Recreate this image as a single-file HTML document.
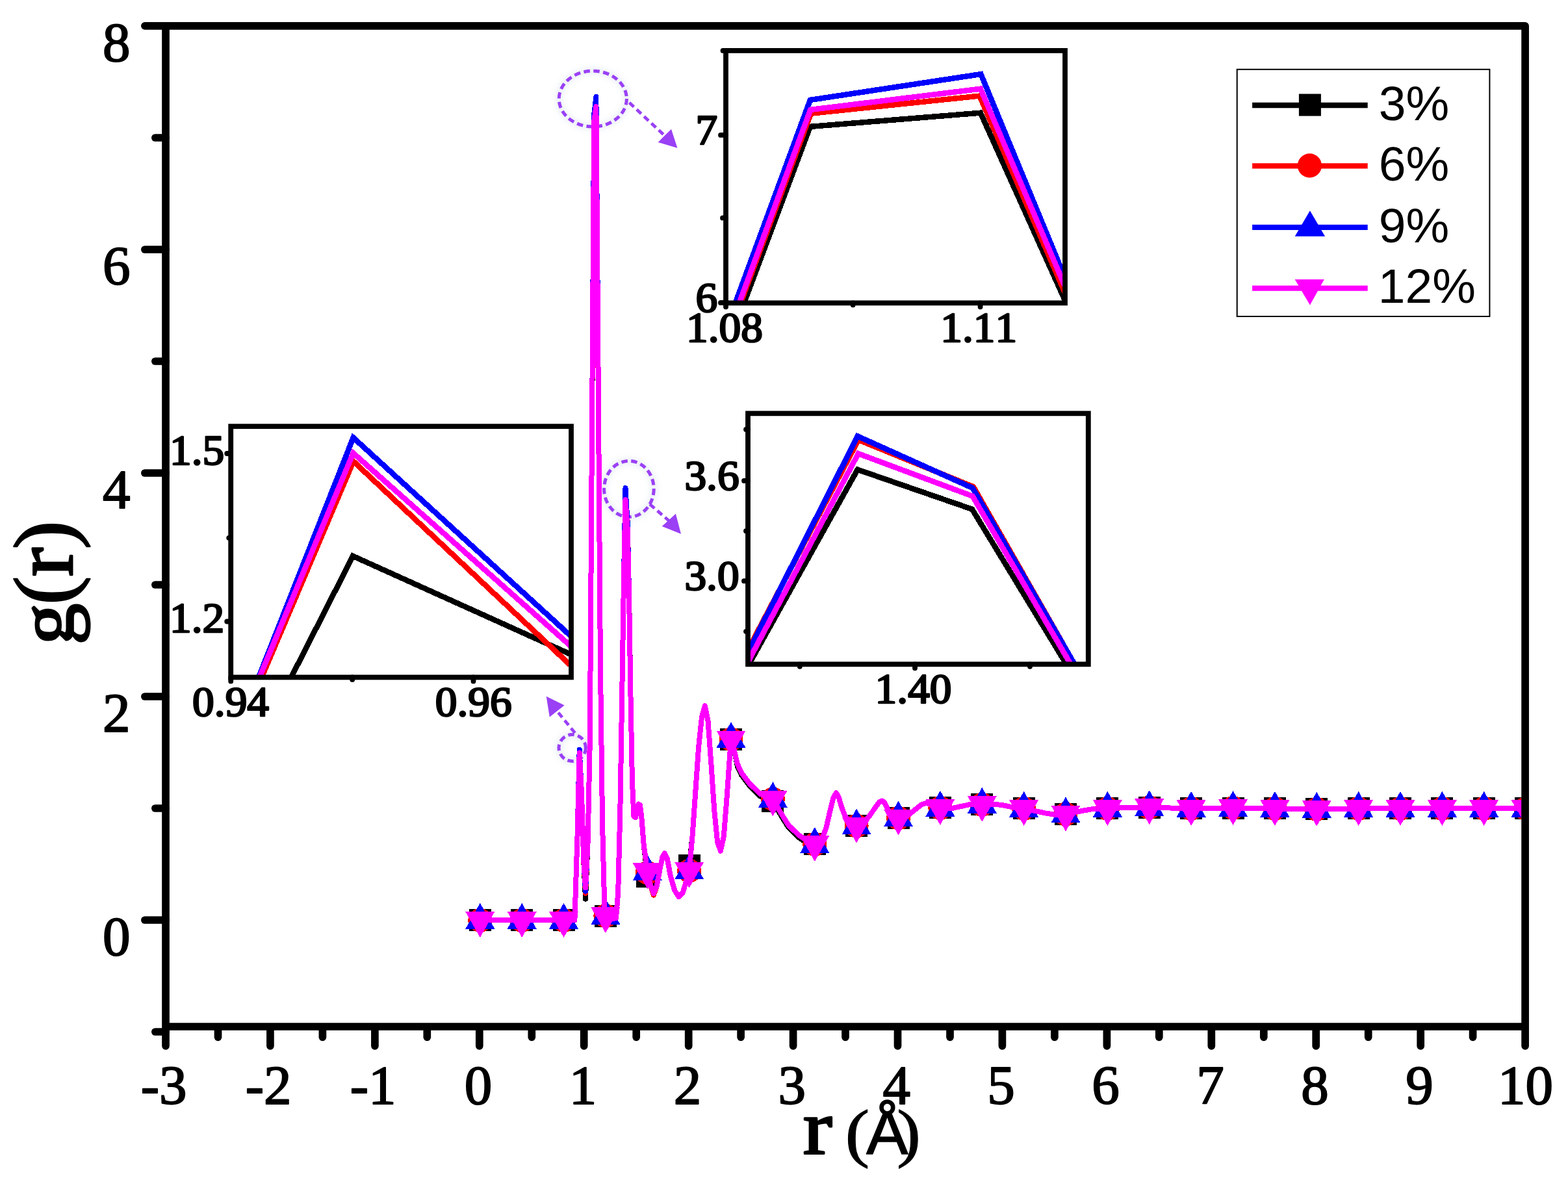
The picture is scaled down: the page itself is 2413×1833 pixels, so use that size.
<!DOCTYPE html>
<html lang="en">
<head>
<meta charset="utf-8">
<title>g(r) radial distribution function</title>
<style>
html,body{margin:0;padding:0;background:#fff;}
body{width:2413px;height:1833px;overflow:hidden;}
svg{display:block;}
</style>
</head>
<body>
<svg width="2413" height="1833" viewBox="0 0 2413 1833" role="img" aria-label="Radial distribution function g(r) versus r for 3%, 6%, 9% and 12%">
<defs>
<filter id="glow" x="-30%" y="-30%" width="160%" height="160%"><feGaussianBlur stdDeviation="5"/></filter>
<filter id="soft" x="-10%" y="-10%" width="120%" height="120%"><feGaussianBlur stdDeviation="0.7"/></filter>
<clipPath id="cpMain"><rect x="255.0" y="39.8" width="2086.25" height="1540.2"/></clipPath>
</defs>
<rect width="2413" height="1833" fill="#fff"/>
<ellipse cx="912.3" cy="152.1" rx="52.1" ry="42.9" fill="none" stroke="#8fa6c8" stroke-opacity="0.22" stroke-width="8" filter="url(#glow)"/>
<g filter="url(#soft)">
<ellipse cx="912.3" cy="152.1" rx="52.1" ry="42.9" fill="none" stroke="#9a3ff5" stroke-width="5" stroke-dasharray="9.5 5.5"/>
<path d="M968.5,158 L1023,209" fill="none" stroke="#9a3ff5" stroke-width="4.8" stroke-dasharray="9.5 6"/>
<polygon points="1042.4,227.8 1012.7,218.9 1033,198.7" fill="#9a3ff5"/>
</g>
<ellipse cx="967.9" cy="752.5" rx="38.3" ry="43.1" fill="none" stroke="#8fa6c8" stroke-opacity="0.22" stroke-width="8" filter="url(#glow)"/>
<g filter="url(#soft)">
<ellipse cx="967.9" cy="752.5" rx="38.3" ry="43.1" fill="none" stroke="#9a3ff5" stroke-width="5" stroke-dasharray="9.5 5.5"/>
<path d="M1000,776 L1030,802" fill="none" stroke="#9a3ff5" stroke-width="4.8" stroke-dasharray="9.5 6"/>
<polygon points="1048,821.7 1018.7,810.1 1039.9,790.8" fill="#9a3ff5"/>
</g>
<ellipse cx="880.7" cy="1151" rx="20.7" ry="20.5" fill="none" stroke="#8fa6c8" stroke-opacity="0.22" stroke-width="8" filter="url(#glow)"/>
<g filter="url(#soft)">
<ellipse cx="880.7" cy="1151" rx="20.7" ry="20.5" fill="none" stroke="#9a3ff5" stroke-width="5" stroke-dasharray="9.5 5.5"/>
<path d="M884.8,1128 L857.4,1094.5" fill="none" stroke="#9a3ff5" stroke-width="4.8" stroke-dasharray="9.5 6"/>
<polygon points="840.7,1071.8 868.6,1085.4 845.8,1103.6" fill="#9a3ff5"/>
</g>
<g clip-path="url(#cpMain)" shape-rendering="crispEdges">
<polyline points="738.8,1416.4 803.2,1416.4 867.5,1416.4 884.4,1416.4 888.5,1287.4 891.7,1189.4 894.9,1218.6 898.1,1321.8 901.0,1383.7 904.6,1296.0 907.8,1141.2 911.0,659.6 914.2,203.8 917.4,189.2 920.6,577.0 923.9,1020.8 927.1,1270.2 930.3,1395.8 932.7,1416.4 948.0,1413.0 951.2,1373.4 954.4,1244.4 957.7,1038.0 960.1,883.2 962.5,785.7 965.7,826.6 968.1,917.6 970.5,1072.4 972.9,1201.4 975.4,1256.4 977.8,1258.2 980.2,1247.8 982.6,1237.5 985.0,1239.2 987.4,1258.2 990.6,1299.4 996.3,1349.3 1001.1,1363.1 1005.9,1375.1 1010.8,1363.1 1015.6,1337.3 1019.6,1318.4 1022.8,1313.2 1026.9,1321.8 1031.7,1347.6 1038.1,1370.0 1044.6,1380.3 1051.0,1373.4 1057.4,1351.0 1060.7,1331.6 1065.5,1287.4 1070.3,1218.6 1075.1,1149.8 1080.0,1103.4 1084.8,1086.2 1089.6,1110.2 1094.4,1175.6 1099.3,1247.8 1104.1,1296.0 1108.9,1309.8 1113.8,1287.4 1118.6,1227.2 1123.4,1158.4 1125.0,1137.8 1129.9,1155.0 1134.7,1179.0 1141.1,1192.8 1154.0,1210.0 1170.1,1225.5 1189.4,1233.2 1200.7,1253.0 1213.5,1273.6 1229.6,1289.1 1242.5,1297.7 1253.8,1299.4 1263.4,1296.0 1271.5,1273.6 1278.6,1242.7 1282.7,1227.2 1286.9,1220.3 1290.8,1227.2 1295.3,1242.7 1300.0,1254.7 1306.9,1265.0 1318.1,1271.1 1327.8,1266.8 1337.5,1256.4 1347.1,1242.7 1353.5,1234.1 1357.6,1232.4 1361.6,1235.8 1366.4,1246.1 1374.5,1256.4 1382.5,1259.0 1395.4,1256.4 1408.3,1246.1 1417.9,1238.4 1426.0,1235.8 1435.6,1239.2 1446.9,1243.4 1463.0,1244.4 1479.1,1241.0 1495.2,1237.5 1511.3,1238.4 1527.4,1237.5 1543.4,1239.2 1559.5,1242.7 1575.6,1244.4 1591.7,1247.8 1607.8,1251.3 1623.9,1253.9 1640.0,1253.0 1656.1,1249.6 1680.2,1245.3 1704.4,1244.4 1736.6,1242.7 1768.7,1242.7 1800.9,1243.5 1833.1,1244.4 1897.5,1243.5 1961.9,1244.4 2026.2,1245.3 2090.6,1244.4 2155.0,1244.4 2219.4,1244.4 2283.7,1244.4 2348.1,1244.4" fill="none" stroke="#000000" stroke-width="8.0" stroke-linejoin="round" stroke-linecap="butt"/>
<rect x="721.8" y="1399.4" width="34" height="34" fill="#000000"/>
<rect x="786.2" y="1399.4" width="34" height="34" fill="#000000"/>
<rect x="850.5" y="1399.4" width="34" height="34" fill="#000000"/>
<rect x="914.9" y="1392.5" width="34" height="34" fill="#000000"/>
<rect x="979.3" y="1332.3" width="34" height="34" fill="#000000"/>
<rect x="1043.7" y="1314.6" width="34" height="34" fill="#000000"/>
<rect x="1108.0" y="1120.8" width="34" height="34" fill="#000000"/>
<rect x="1172.4" y="1216.2" width="34" height="34" fill="#000000"/>
<rect x="1236.8" y="1282.4" width="34" height="34" fill="#000000"/>
<rect x="1301.1" y="1254.1" width="34" height="34" fill="#000000"/>
<rect x="1365.5" y="1242.0" width="34" height="34" fill="#000000"/>
<rect x="1429.9" y="1226.4" width="34" height="34" fill="#000000"/>
<rect x="1494.3" y="1221.4" width="34" height="34" fill="#000000"/>
<rect x="1558.6" y="1227.4" width="34" height="34" fill="#000000"/>
<rect x="1623.0" y="1236.0" width="34" height="34" fill="#000000"/>
<rect x="1687.4" y="1227.4" width="34" height="34" fill="#000000"/>
<rect x="1751.7" y="1225.7" width="34" height="34" fill="#000000"/>
<rect x="1816.1" y="1227.4" width="34" height="34" fill="#000000"/>
<rect x="1880.5" y="1226.5" width="34" height="34" fill="#000000"/>
<rect x="1944.9" y="1227.4" width="34" height="34" fill="#000000"/>
<rect x="2009.2" y="1228.3" width="34" height="34" fill="#000000"/>
<rect x="2073.6" y="1227.4" width="34" height="34" fill="#000000"/>
<rect x="2138.0" y="1227.4" width="34" height="34" fill="#000000"/>
<rect x="2202.4" y="1227.4" width="34" height="34" fill="#000000"/>
<rect x="2266.7" y="1227.4" width="34" height="34" fill="#000000"/>
<rect x="2331.1" y="1227.4" width="34" height="34" fill="#000000"/>
<polyline points="738.8,1416.4 803.2,1416.4 867.5,1416.4 884.4,1416.4 888.5,1287.4 891.7,1161.0 894.9,1218.6 898.1,1321.8 901.0,1375.1 904.6,1296.0 907.8,1141.2 911.0,659.6 914.2,190.0 917.4,171.1 920.6,577.0 923.9,1020.8 927.1,1270.2 930.3,1395.8 932.7,1416.4 948.0,1413.0 951.2,1373.4 954.4,1244.4 957.7,1038.0 960.1,883.2 962.5,754.9 965.7,803.4 968.1,917.6 970.5,1072.4 972.9,1201.4 975.4,1256.4 977.8,1258.2 980.2,1247.8 982.6,1237.5 985.0,1239.2 987.4,1258.2 990.6,1299.4 996.3,1343.3 1001.1,1363.1 1005.9,1377.7 1010.8,1363.1 1015.6,1337.3 1019.6,1318.4 1022.8,1313.2 1026.9,1321.8 1031.7,1347.6 1038.1,1370.0 1044.6,1380.3 1051.0,1373.4 1057.4,1351.0 1060.7,1340.2 1065.5,1287.4 1070.3,1218.6 1075.1,1149.8 1080.0,1103.4 1084.8,1086.2 1089.6,1110.2 1094.4,1175.6 1099.3,1247.8 1104.1,1296.0 1108.9,1309.8 1113.8,1287.4 1118.6,1227.2 1123.4,1158.4 1125.0,1137.8 1129.9,1155.0 1134.7,1175.6 1141.1,1189.4 1154.0,1206.6 1170.1,1222.0 1189.4,1229.8 1200.7,1249.6 1213.5,1270.2 1229.6,1285.7 1242.5,1294.3 1253.8,1299.4 1263.4,1296.0 1271.5,1273.6 1278.6,1242.7 1282.7,1227.2 1286.9,1220.3 1290.8,1227.2 1295.3,1242.7 1300.0,1254.7 1306.9,1265.0 1318.1,1271.1 1327.8,1266.8 1337.5,1256.4 1347.1,1242.7 1353.5,1234.1 1357.6,1232.4 1361.6,1235.8 1366.4,1246.1 1374.5,1256.4 1382.5,1259.0 1395.4,1256.4 1408.3,1246.1 1417.9,1238.4 1426.0,1235.8 1435.6,1239.2 1446.9,1243.4 1463.0,1244.4 1479.1,1241.0 1495.2,1237.5 1511.3,1238.4 1527.4,1237.5 1543.4,1239.2 1559.5,1242.7 1575.6,1244.4 1591.7,1247.8 1607.8,1251.3 1623.9,1253.9 1640.0,1253.0 1656.1,1249.6 1680.2,1245.3 1704.4,1244.4 1736.6,1242.7 1768.7,1242.7 1800.9,1243.5 1833.1,1244.4 1897.5,1243.5 1961.9,1244.4 2026.2,1245.3 2090.6,1244.4 2155.0,1244.4 2219.4,1244.4 2283.7,1244.4 2348.1,1244.4" fill="none" stroke="#ff0000" stroke-width="8.0" stroke-linejoin="round" stroke-linecap="butt"/>
<circle cx="738.8" cy="1416.4" r="18.5" fill="#ff0000"/>
<circle cx="803.2" cy="1416.4" r="18.5" fill="#ff0000"/>
<circle cx="867.5" cy="1416.4" r="18.5" fill="#ff0000"/>
<circle cx="931.9" cy="1409.5" r="18.5" fill="#ff0000"/>
<circle cx="996.3" cy="1343.3" r="18.5" fill="#ff0000"/>
<circle cx="1060.7" cy="1340.2" r="18.5" fill="#ff0000"/>
<circle cx="1125.0" cy="1137.8" r="18.5" fill="#ff0000"/>
<circle cx="1189.4" cy="1229.8" r="18.5" fill="#ff0000"/>
<circle cx="1253.8" cy="1299.4" r="18.5" fill="#ff0000"/>
<circle cx="1318.1" cy="1271.1" r="18.5" fill="#ff0000"/>
<circle cx="1382.5" cy="1259.0" r="18.5" fill="#ff0000"/>
<circle cx="1446.9" cy="1243.4" r="18.5" fill="#ff0000"/>
<circle cx="1511.3" cy="1238.4" r="18.5" fill="#ff0000"/>
<circle cx="1575.6" cy="1244.4" r="18.5" fill="#ff0000"/>
<circle cx="1640.0" cy="1253.0" r="18.5" fill="#ff0000"/>
<circle cx="1704.4" cy="1244.4" r="18.5" fill="#ff0000"/>
<circle cx="1768.7" cy="1242.7" r="18.5" fill="#ff0000"/>
<circle cx="1833.1" cy="1244.4" r="18.5" fill="#ff0000"/>
<circle cx="1897.5" cy="1243.5" r="18.5" fill="#ff0000"/>
<circle cx="1961.9" cy="1244.4" r="18.5" fill="#ff0000"/>
<circle cx="2026.2" cy="1245.3" r="18.5" fill="#ff0000"/>
<circle cx="2090.6" cy="1244.4" r="18.5" fill="#ff0000"/>
<circle cx="2155.0" cy="1244.4" r="18.5" fill="#ff0000"/>
<circle cx="2219.4" cy="1244.4" r="18.5" fill="#ff0000"/>
<circle cx="2283.7" cy="1244.4" r="18.5" fill="#ff0000"/>
<circle cx="2348.1" cy="1244.4" r="18.5" fill="#ff0000"/>
<polyline points="738.8,1416.4 803.2,1416.4 867.5,1416.4 884.4,1416.4 888.5,1287.4 891.7,1153.6 894.9,1218.6 898.1,1321.8 901.0,1371.7 904.6,1296.0 907.8,1141.2 911.0,659.6 914.2,176.3 917.4,148.8 920.6,577.0 923.9,1020.8 927.1,1270.2 930.3,1395.8 932.7,1416.4 948.0,1413.0 951.2,1373.4 954.4,1244.4 957.7,1038.0 960.1,883.2 962.5,751.1 965.7,804.6 968.1,917.6 970.5,1072.4 972.9,1201.4 975.4,1256.4 977.8,1258.2 980.2,1247.8 982.6,1237.5 985.0,1239.2 987.4,1258.2 990.6,1299.4 996.3,1341.6 1001.1,1363.1 1005.9,1375.1 1010.8,1363.1 1015.6,1337.3 1019.6,1318.4 1022.8,1313.2 1026.9,1321.8 1031.7,1347.6 1038.1,1370.0 1044.6,1380.3 1051.0,1373.4 1057.4,1351.0 1060.7,1340.2 1065.5,1287.4 1070.3,1218.6 1075.1,1149.8 1080.0,1103.4 1084.8,1086.2 1089.6,1110.2 1094.4,1175.6 1099.3,1247.8 1104.1,1296.0 1108.9,1309.8 1113.8,1287.4 1118.6,1227.2 1123.4,1158.4 1125.0,1137.8 1129.9,1155.0 1134.7,1175.6 1141.1,1189.4 1154.0,1206.6 1170.1,1222.0 1189.4,1229.8 1200.7,1249.6 1213.5,1270.2 1229.6,1285.7 1242.5,1294.3 1253.8,1299.4 1263.4,1296.0 1271.5,1273.6 1278.6,1242.7 1282.7,1227.2 1286.9,1220.3 1290.8,1227.2 1295.3,1242.7 1300.0,1254.7 1306.9,1265.0 1318.1,1271.1 1327.8,1266.8 1337.5,1256.4 1347.1,1242.7 1353.5,1234.1 1357.6,1232.4 1361.6,1235.8 1366.4,1246.1 1374.5,1256.4 1382.5,1259.0 1395.4,1256.4 1408.3,1246.1 1417.9,1238.4 1426.0,1235.8 1435.6,1239.2 1446.9,1243.4 1463.0,1244.4 1479.1,1241.0 1495.2,1237.5 1511.3,1238.4 1527.4,1237.5 1543.4,1239.2 1559.5,1242.7 1575.6,1244.4 1591.7,1247.8 1607.8,1251.3 1623.9,1253.9 1640.0,1253.0 1656.1,1249.6 1680.2,1245.3 1704.4,1244.4 1736.6,1242.7 1768.7,1242.7 1800.9,1243.5 1833.1,1244.4 1897.5,1243.5 1961.9,1244.4 2026.2,1245.3 2090.6,1244.4 2155.0,1244.4 2219.4,1244.4 2283.7,1244.4 2348.1,1244.4" fill="none" stroke="#0000ff" stroke-width="8.0" stroke-linejoin="round" stroke-linecap="butt"/>
<polygon points="738.8,1389.9 716.3,1429.6 761.3,1429.6" fill="#0000ff"/>
<polygon points="803.2,1389.9 780.7,1429.6 825.7,1429.6" fill="#0000ff"/>
<polygon points="867.5,1389.9 845.0,1429.6 890.0,1429.6" fill="#0000ff"/>
<polygon points="931.9,1383.1 909.4,1422.8 954.4,1422.8" fill="#0000ff"/>
<polygon points="996.3,1315.1 973.8,1354.8 1018.8,1354.8" fill="#0000ff"/>
<polygon points="1060.7,1313.7 1038.2,1353.4 1083.2,1353.4" fill="#0000ff"/>
<polygon points="1125.0,1111.3 1102.5,1151.0 1147.5,1151.0" fill="#0000ff"/>
<polygon points="1189.4,1203.3 1166.9,1243.0 1211.9,1243.0" fill="#0000ff"/>
<polygon points="1253.8,1273.0 1231.3,1312.7 1276.3,1312.7" fill="#0000ff"/>
<polygon points="1318.1,1244.6 1295.6,1284.3 1340.6,1284.3" fill="#0000ff"/>
<polygon points="1382.5,1232.6 1360.0,1272.3 1405.0,1272.3" fill="#0000ff"/>
<polygon points="1446.9,1216.9 1424.4,1256.6 1469.4,1256.6" fill="#0000ff"/>
<polygon points="1511.3,1211.9 1488.8,1251.6 1533.8,1251.6" fill="#0000ff"/>
<polygon points="1575.6,1217.9 1553.1,1257.6 1598.1,1257.6" fill="#0000ff"/>
<polygon points="1640.0,1226.5 1617.5,1266.2 1662.5,1266.2" fill="#0000ff"/>
<polygon points="1704.4,1217.9 1681.9,1257.6 1726.9,1257.6" fill="#0000ff"/>
<polygon points="1768.7,1216.2 1746.2,1255.9 1791.2,1255.9" fill="#0000ff"/>
<polygon points="1833.1,1217.9 1810.6,1257.6 1855.6,1257.6" fill="#0000ff"/>
<polygon points="1897.5,1217.1 1875.0,1256.8 1920.0,1256.8" fill="#0000ff"/>
<polygon points="1961.9,1217.9 1939.4,1257.6 1984.4,1257.6" fill="#0000ff"/>
<polygon points="2026.2,1218.8 2003.7,1258.5 2048.7,1258.5" fill="#0000ff"/>
<polygon points="2090.6,1217.9 2068.1,1257.6 2113.1,1257.6" fill="#0000ff"/>
<polygon points="2155.0,1217.9 2132.5,1257.6 2177.5,1257.6" fill="#0000ff"/>
<polygon points="2219.4,1217.9 2196.9,1257.6 2241.9,1257.6" fill="#0000ff"/>
<polygon points="2283.7,1217.9 2261.2,1257.6 2306.2,1257.6" fill="#0000ff"/>
<polygon points="2348.1,1217.9 2325.6,1257.6 2370.6,1257.6" fill="#0000ff"/>
<polyline points="738.8,1416.4 803.2,1416.4 867.5,1416.4 884.4,1416.4 888.5,1287.4 891.7,1158.4 894.9,1218.6 898.1,1321.8 901.0,1366.5 904.6,1296.0 907.8,1141.2 911.0,659.6 914.2,186.6 917.4,164.2 920.6,577.0 923.9,1020.8 927.1,1270.2 930.3,1395.8 932.7,1416.4 948.0,1413.0 951.2,1373.4 954.4,1244.4 957.7,1038.0 960.1,883.2 962.5,769.2 965.7,813.2 968.1,917.6 970.5,1072.4 972.9,1201.4 975.4,1256.4 977.8,1258.2 980.2,1247.8 982.6,1237.5 985.0,1239.2 987.4,1258.2 990.6,1299.4 996.3,1341.6 1001.1,1363.1 1005.9,1375.1 1010.8,1363.1 1015.6,1337.3 1019.6,1318.4 1022.8,1313.2 1026.9,1321.8 1031.7,1347.6 1038.1,1370.0 1044.6,1380.3 1051.0,1373.4 1057.4,1351.0 1060.7,1340.2 1065.5,1287.4 1070.3,1218.6 1075.1,1149.8 1080.0,1103.4 1084.8,1086.2 1089.6,1110.2 1094.4,1175.6 1099.3,1247.8 1104.1,1296.0 1108.9,1309.8 1113.8,1287.4 1118.6,1227.2 1123.4,1158.4 1125.0,1137.8 1129.9,1155.0 1134.7,1175.6 1141.1,1189.4 1154.0,1206.6 1170.1,1222.0 1189.4,1229.8 1200.7,1249.6 1213.5,1270.2 1229.6,1285.7 1242.5,1294.3 1253.8,1299.4 1263.4,1296.0 1271.5,1273.6 1278.6,1242.7 1282.7,1227.2 1286.9,1220.3 1290.8,1227.2 1295.3,1242.7 1300.0,1254.7 1306.9,1265.0 1318.1,1271.1 1327.8,1266.8 1337.5,1256.4 1347.1,1242.7 1353.5,1234.1 1357.6,1232.4 1361.6,1235.8 1366.4,1246.1 1374.5,1256.4 1382.5,1259.0 1395.4,1256.4 1408.3,1246.1 1417.9,1238.4 1426.0,1235.8 1435.6,1239.2 1446.9,1243.4 1463.0,1244.4 1479.1,1241.0 1495.2,1237.5 1511.3,1238.4 1527.4,1237.5 1543.4,1239.2 1559.5,1242.7 1575.6,1244.4 1591.7,1247.8 1607.8,1251.3 1623.9,1253.9 1640.0,1253.0 1656.1,1249.6 1680.2,1245.3 1704.4,1244.4 1736.6,1242.7 1768.7,1242.7 1800.9,1243.5 1833.1,1244.4 1897.5,1243.5 1961.9,1244.4 2026.2,1245.3 2090.6,1244.4 2155.0,1244.4 2219.4,1244.4 2283.7,1244.4 2348.1,1244.4" fill="none" stroke="#ff00ff" stroke-width="8.0" stroke-linejoin="round" stroke-linecap="butt"/>
<polygon points="738.8,1442.9 716.3,1403.2 761.3,1403.2" fill="#ff00ff"/>
<polygon points="803.2,1442.9 780.7,1403.2 825.7,1403.2" fill="#ff00ff"/>
<polygon points="867.5,1442.9 845.0,1403.2 890.0,1403.2" fill="#ff00ff"/>
<polygon points="931.9,1436.0 909.4,1396.3 954.4,1396.3" fill="#ff00ff"/>
<polygon points="996.3,1368.0 973.8,1328.3 1018.8,1328.3" fill="#ff00ff"/>
<polygon points="1060.7,1366.7 1038.2,1327.0 1083.2,1327.0" fill="#ff00ff"/>
<polygon points="1125.0,1164.2 1102.5,1124.5 1147.5,1124.5" fill="#ff00ff"/>
<polygon points="1189.4,1256.2 1166.9,1216.5 1211.9,1216.5" fill="#ff00ff"/>
<polygon points="1253.8,1325.9 1231.3,1286.2 1276.3,1286.2" fill="#ff00ff"/>
<polygon points="1318.1,1297.5 1295.6,1257.8 1340.6,1257.8" fill="#ff00ff"/>
<polygon points="1382.5,1285.5 1360.0,1245.8 1405.0,1245.8" fill="#ff00ff"/>
<polygon points="1446.9,1269.8 1424.4,1230.1 1469.4,1230.1" fill="#ff00ff"/>
<polygon points="1511.3,1264.8 1488.8,1225.1 1533.8,1225.1" fill="#ff00ff"/>
<polygon points="1575.6,1270.9 1553.1,1231.2 1598.1,1231.2" fill="#ff00ff"/>
<polygon points="1640.0,1279.5 1617.5,1239.8 1662.5,1239.8" fill="#ff00ff"/>
<polygon points="1704.4,1270.9 1681.9,1231.2 1726.9,1231.2" fill="#ff00ff"/>
<polygon points="1768.7,1269.1 1746.2,1229.4 1791.2,1229.4" fill="#ff00ff"/>
<polygon points="1833.1,1270.9 1810.6,1231.2 1855.6,1231.2" fill="#ff00ff"/>
<polygon points="1897.5,1270.0 1875.0,1230.3 1920.0,1230.3" fill="#ff00ff"/>
<polygon points="1961.9,1270.9 1939.4,1231.2 1984.4,1231.2" fill="#ff00ff"/>
<polygon points="2026.2,1271.7 2003.7,1232.0 2048.7,1232.0" fill="#ff00ff"/>
<polygon points="2090.6,1270.9 2068.1,1231.2 2113.1,1231.2" fill="#ff00ff"/>
<polygon points="2155.0,1270.9 2132.5,1231.2 2177.5,1231.2" fill="#ff00ff"/>
<polygon points="2219.4,1270.9 2196.9,1231.2 2241.9,1231.2" fill="#ff00ff"/>
<polygon points="2283.7,1270.9 2261.2,1231.2 2306.2,1231.2" fill="#ff00ff"/>
<polygon points="2348.1,1270.9 2325.6,1231.2 2370.6,1231.2" fill="#ff00ff"/>
</g>
<g stroke="#000" stroke-width="11.7" fill="none" stroke-linecap="round" stroke-linejoin="round">
<path d="M255.0,1609.8500000000001 L255.0,39.8 M222.85,39.8 L2347.1,39.8 L2347.1,1609.8500000000001"/>
<path d="M255.0,1580.0 L2347.1,1580.0" stroke-linecap="butt"/>
<path d="M335.5,1581.0 L335.5,1596.3500000000001"/>
<path d="M415.9,1581.0 L415.9,1609.8500000000001"/>
<path d="M496.4,1581.0 L496.4,1596.3500000000001"/>
<path d="M576.9,1581.0 L576.9,1609.8500000000001"/>
<path d="M657.3,1581.0 L657.3,1596.3500000000001"/>
<path d="M737.8,1581.0 L737.8,1609.8500000000001"/>
<path d="M818.3,1581.0 L818.3,1596.3500000000001"/>
<path d="M898.7,1581.0 L898.7,1609.8500000000001"/>
<path d="M979.2,1581.0 L979.2,1596.3500000000001"/>
<path d="M1059.7,1581.0 L1059.7,1609.8500000000001"/>
<path d="M1140.1,1581.0 L1140.1,1596.3500000000001"/>
<path d="M1220.6,1581.0 L1220.6,1609.8500000000001"/>
<path d="M1301.0,1581.0 L1301.0,1596.3500000000001"/>
<path d="M1381.5,1581.0 L1381.5,1609.8500000000001"/>
<path d="M1462.0,1581.0 L1462.0,1596.3500000000001"/>
<path d="M1542.4,1581.0 L1542.4,1609.8500000000001"/>
<path d="M1622.9,1581.0 L1622.9,1596.3500000000001"/>
<path d="M1703.4,1581.0 L1703.4,1609.8500000000001"/>
<path d="M1783.8,1581.0 L1783.8,1596.3500000000001"/>
<path d="M1864.3,1581.0 L1864.3,1609.8500000000001"/>
<path d="M1944.8,1581.0 L1944.8,1596.3500000000001"/>
<path d="M2025.2,1581.0 L2025.2,1609.8500000000001"/>
<path d="M2105.7,1581.0 L2105.7,1596.3500000000001"/>
<path d="M2186.2,1581.0 L2186.2,1609.8500000000001"/>
<path d="M2266.6,1581.0 L2266.6,1596.3500000000001"/>
<path d="M255.0,1588.0 L238.85,1588.0"/>
<path d="M255.0,1416.0 L222.85,1416.0"/>
<path d="M255.0,1244.0 L238.85,1244.0"/>
<path d="M255.0,1072.0 L222.85,1072.0"/>
<path d="M255.0,900.0 L238.85,900.0"/>
<path d="M255.0,728.0 L222.85,728.0"/>
<path d="M255.0,556.0 L238.85,556.0"/>
<path d="M255.0,384.0 L222.85,384.0"/>
<path d="M255.0,212.0 L238.85,212.0"/>
</g>
<g font-family="'Liberation Serif','Times New Roman',serif" font-size="85" fill="#000" stroke="#000" stroke-width="2.0" stroke-linejoin="round" text-anchor="middle">
<text x="252.2" y="1698.9">-3</text>
<text x="413.1" y="1698.9">-2</text>
<text x="574.1" y="1698.9">-1</text>
<text x="736.0" y="1698.9">0</text>
<text x="896.9" y="1698.9">1</text>
<text x="1057.9" y="1698.9">2</text>
<text x="1218.8" y="1698.9">3</text>
<text x="1379.7" y="1698.9">4</text>
<text x="1540.6" y="1698.9">5</text>
<text x="1701.6" y="1698.9">6</text>
<text x="1862.5" y="1698.9">7</text>
<text x="2023.4" y="1698.9">8</text>
<text x="2184.4" y="1698.9">9</text>
<text x="2347.6" y="1698.9">10</text>
<text x="179.2" y="1470.2">0</text>
<text x="179.2" y="1126.2">2</text>
<text x="179.2" y="782.2">4</text>
<text x="179.2" y="438.2">6</text>
<text x="179.2" y="94.2">8</text>
</g>
<text fill="#000" stroke="#000" stroke-linejoin="round"><tspan x="1235.70" y="1775.30" font-family="'Liberation Serif','Times New Roman',serif" font-size="118.72" stroke-width="3.0" textLength="44.87" lengthAdjust="spacingAndGlyphs">r</tspan> <tspan x="1300.40" y="1777.27" font-family="'Liberation Serif','Times New Roman',serif" font-size="99.67" stroke-width="1.0" textLength="37.74" lengthAdjust="spacingAndGlyphs">(</tspan><tspan x="1333.32" y="1776.00" font-family="'Liberation Sans',Arial,sans-serif" font-size="94.74" stroke-width="1.6" textLength="64.07" lengthAdjust="spacingAndGlyphs">Å</tspan><tspan x="1379.97" y="1777.27" font-family="'Liberation Serif','Times New Roman',serif" font-size="99.67" stroke-width="1.0" textLength="37.01" lengthAdjust="spacingAndGlyphs">)</tspan></text>
<text transform="rotate(-90)" fill="#000" stroke="#000" stroke-linejoin="round"><tspan x="-992.54" y="112.21" font-family="'Liberation Serif','Times New Roman',serif" font-size="120.41" stroke-width="3.0" textLength="63.79" lengthAdjust="spacingAndGlyphs">g</tspan><tspan x="-931.02" y="110.86" font-family="'Liberation Serif','Times New Roman',serif" font-size="128.78" stroke-width="2.2" textLength="44.53" lengthAdjust="spacingAndGlyphs">(</tspan><tspan x="-887.40" y="111.30" font-family="'Liberation Serif','Times New Roman',serif" font-size="130.00" stroke-width="3.0" textLength="44.98" lengthAdjust="spacingAndGlyphs">r</tspan><tspan x="-845.25" y="110.86" font-family="'Liberation Serif','Times New Roman',serif" font-size="128.78" stroke-width="2.2" textLength="43.80" lengthAdjust="spacingAndGlyphs">)</tspan></text>
<clipPath id="cpI1"><rect x="1117.0" y="77.9" width="522.0" height="388.4"/></clipPath>
<rect x="1117.0" y="77.9" width="522.0" height="388.4" fill="#fff"/>
<g clip-path="url(#cpI1)" fill="none" stroke-width="8.5" stroke-linejoin="miter" stroke-miterlimit="10" shape-rendering="crispEdges">
<polyline points="1131.6,502.0 1246.8,194.9 1508.9,173.7 1639.0,462.5 1700.0,600.0" stroke="#000000"/>
<polyline points="1126.5,502.0 1247.9,174.7 1507.5,147.6 1639.0,451.0 1700.0,590.0" stroke="#ff0000"/>
<polyline points="1118.5,502.0 1246.8,153.9 1509.5,114.1 1639.0,428.0 1700.0,576.0" stroke="#0000ff"/>
<polyline points="1124.5,502.0 1247.2,168.9 1508.9,136.7 1639.0,441.0 1700.0,580.0" stroke="#ff00ff"/>
</g>
<g stroke="#000" fill="none" stroke-linecap="round">
<rect x="1117.0" y="77.9" width="522.0" height="388.4" stroke-width="7.8" stroke-linejoin="miter"/>
<path d="M1117.0,77.9 L1112.5,77.9" stroke-width="7.8"/>
<path d="M1117.0,207.9 L1109.0,207.9" stroke-width="7.8"/>
<path d="M1117.0,335.4 L1112.0,335.4" stroke-width="7.8"/>
<path d="M1117.0,465.9 L1109.0,465.9" stroke-width="7.8"/>
<path d="M1117,466.3 L1117,472.3" stroke-width="7.8"/>
<path d="M1312.6,466.3 L1312.6,469.3" stroke-width="7.8"/>
<path d="M1508.6,466.3 L1508.6,472.3" stroke-width="7.8"/>
</g>
<g font-family="'Liberation Serif','Times New Roman',serif" font-size="64.5" fill="#000" stroke="#000" stroke-width="2.6" stroke-linejoin="round" style="font-kerning:none">
<text transform="translate(1070.6,222.0) scale(1.045,1)">7</text>
<text transform="translate(1070.6,480.0) scale(1.045,1)">6</text>
<text transform="translate(1056.0,525.7) scale(1.045,1)">1.08</text>
<text transform="translate(1447.3,525.7) scale(1.045,1)">1.11</text>
</g>
<clipPath id="cpI2"><rect x="355.2" y="656.2" width="523.8" height="386.20000000000005"/></clipPath>
<rect x="355.2" y="656.2" width="523.8" height="386.20000000000005" fill="#fff"/>
<g clip-path="url(#cpI2)" fill="none" stroke-width="8.5" stroke-linejoin="miter" stroke-miterlimit="10" shape-rendering="crispEdges">
<polyline points="429.0,1080.0 543.1,855.8 875.2,1005.7 940.0,1035.0" stroke="#000000"/>
<polyline points="386.7,1080.0 543.9,710.0 875.2,1021.3 940.0,1082.0" stroke="#ff0000"/>
<polyline points="383.2,1080.0 543.6,673.5 875.2,976.0 940.0,1035.0" stroke="#0000ff"/>
<polyline points="383.6,1080.0 543.6,697.3 875.2,991.6 940.0,1049.0" stroke="#ff00ff"/>
</g>
<g stroke="#000" fill="none" stroke-linecap="round">
<rect x="355.2" y="656.2" width="523.8" height="386.20000000000005" stroke-width="7.8" stroke-linejoin="miter"/>
<path d="M355.2,698 L349.2,698" stroke-width="7.8"/>
<path d="M355.2,827.8 L352.2,827.8" stroke-width="7.8"/>
<path d="M355.2,956.5 L349.2,956.5" stroke-width="7.8"/>
<path d="M355.2,1042.4 L355.2,1048.4" stroke-width="7.8"/>
<path d="M542.2,1042.4 L542.2,1045.9" stroke-width="7.8"/>
<path d="M728.5,1042.4 L728.5,1048.4" stroke-width="7.8"/>
</g>
<g font-family="'Liberation Serif','Times New Roman',serif" font-size="64.5" fill="#000" stroke="#000" stroke-width="2.6" stroke-linejoin="round" style="font-kerning:none">
<text transform="translate(261.0,714.8) scale(1.045,1)">1.5</text>
<text transform="translate(261.0,973.2) scale(1.045,1)">1.2</text>
<text transform="translate(296.1,1102.1) scale(1.045,1)">0.94</text>
<text transform="translate(669.7,1102.1) scale(1.045,1)">0.96</text>
</g>
<clipPath id="cpI3"><rect x="1151.0" y="636.3" width="523.8" height="386.0"/></clipPath>
<rect x="1151.0" y="636.3" width="523.8" height="386.0" fill="#fff"/>
<g clip-path="url(#cpI3)" fill="none" stroke-width="8.5" stroke-linejoin="miter" stroke-miterlimit="10" shape-rendering="crispEdges">
<polyline points="1110.0,1098.0 1154.9,1018.0 1319.7,722.7 1496.0,783.7 1638.8,1018.6 1680.0,1086.0" stroke="#000000"/>
<polyline points="1110.0,1078.0 1154.9,992.9 1321.0,677.0 1497.9,749.2 1651.5,1018.6 1690.0,1086.0" stroke="#ff0000"/>
<polyline points="1110.0,1085.0 1154.9,996.6 1319.7,671.3 1496.7,751.0 1651.5,1018.6 1690.0,1085.0" stroke="#0000ff"/>
<polyline points="1110.0,1098.0 1154.9,1011.5 1320.8,698.1 1496.7,763.6 1645.5,1018.6 1685.0,1086.0" stroke="#ff00ff"/>
</g>
<g stroke="#000" fill="none" stroke-linecap="round">
<rect x="1151.0" y="636.3" width="523.8" height="386.0" stroke-width="7.8" stroke-linejoin="miter"/>
<path d="M1151.0,660.9 L1148.0,660.9" stroke-width="7.8"/>
<path d="M1151.0,739.9 L1145.0,739.9" stroke-width="7.8"/>
<path d="M1151.0,817.2 L1148.0,817.2" stroke-width="7.8"/>
<path d="M1151.0,894.2 L1145.0,894.2" stroke-width="7.8"/>
<path d="M1151.0,971.8 L1148.0,971.8" stroke-width="7.8"/>
<path d="M1230.8,1022.3 L1230.8,1025.8" stroke-width="7.8"/>
<path d="M1408.0,1022.3 L1408.0,1028.3" stroke-width="7.8"/>
<path d="M1585.0,1022.3 L1585.0,1025.8" stroke-width="7.8"/>
</g>
<g font-family="'Liberation Serif','Times New Roman',serif" font-size="64.5" fill="#000" stroke="#000" stroke-width="2.6" stroke-linejoin="round" style="font-kerning:none">
<text transform="translate(1053.4,754.0) scale(1.045,1)">3.6</text>
<text transform="translate(1053.4,907.8) scale(1.045,1)">3.0</text>
<text transform="translate(1346.6,1081.9) scale(1.045,1)">1.40</text>
</g>
<rect x="1903.7" y="106.8" width="388.70000000000005" height="380.2" fill="#fff" stroke="#000" stroke-width="2"/>
<path d="M1927.1,162.0 L2104.7,162.0" stroke="#000000" stroke-width="8.3" fill="none"/>
<rect x="1998.9" y="144.5" width="34" height="34" fill="#000000"/>
<text x="2121.8" y="184.6" font-family="'Liberation Sans',Arial,sans-serif" font-size="75" fill="#000">3%</text>
<path d="M1927.1,255.4 L2104.7,255.4" stroke="#ff0000" stroke-width="8.3" fill="none"/>
<circle cx="2015.4" cy="254.9" r="18.6" fill="#ff0000"/>
<text x="2121.8" y="278.0" font-family="'Liberation Sans',Arial,sans-serif" font-size="75" fill="#000">6%</text>
<path d="M1927.1,349.9 L2104.7,349.9" stroke="#0000ff" stroke-width="8.3" fill="none"/>
<polygon points="2015.9,324.29999999999995 1992.7,363.79999999999995 2039.1000000000001,363.79999999999995" fill="#0000ff"/>
<text x="2121.8" y="372.5" font-family="'Liberation Sans',Arial,sans-serif" font-size="75" fill="#000">9%</text>
<path d="M1927.1,443.6 L2104.7,443.6" stroke="#ff00ff" stroke-width="8.3" fill="none"/>
<polygon points="2015.9,469.40000000000003 1992.7,429.90000000000003 2037.9,429.90000000000003" fill="#ff00ff"/>
<text x="2120.8" y="466.2" font-family="'Liberation Sans',Arial,sans-serif" font-size="75" fill="#000">12%</text>
</svg>
</body>
</html>
